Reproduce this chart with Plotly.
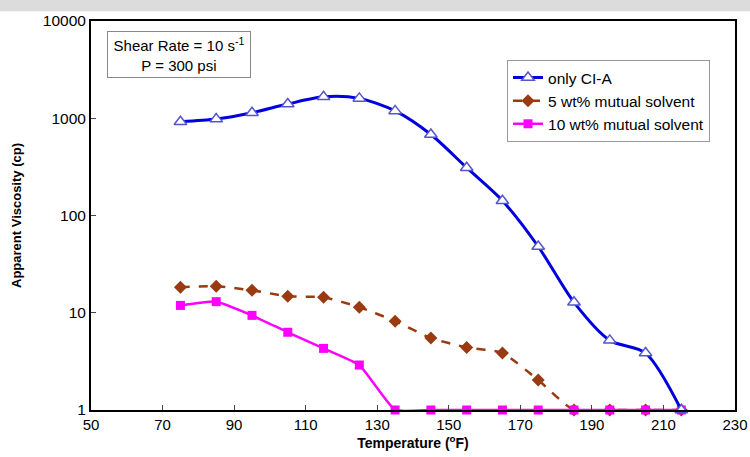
import plotly.graph_objects as go

temps = [75, 85, 95, 105, 115, 125, 135, 145, 155, 165, 175, 185, 195, 205, 215]
only_ci_a = [920, 980, 1140, 1400, 1660, 1600, 1190, 680, 310, 142, 48, 12.8, 5.2, 3.85, 1]
mutual_5 = [18.3, 18.7, 17.0, 14.8, 14.4, 11.4, 8.2, 5.5, 4.4, 3.85, 2.03, 1, 1, 1, 1]
mutual_10 = [11.9, 13.0, 9.4, 6.3, 4.3, 2.9, 1, 1, 1, 1, 1, 1, 1, 1, 1]

x_ticks = [50, 70, 90, 110, 130, 150, 170, 190, 210, 230]
y_ticks = [1, 10, 100, 1000, 10000]

fig = go.Figure()
fig.add_trace(go.Scatter(
    x=temps, y=mutual_5, name="5 wt% mutual solvent", mode="lines+markers",
    line=dict(color="#9a3a10", width=2.5, dash="dash", shape="spline", smoothing=0.6),
    marker=dict(symbol="diamond", size=10, color="#9a3a10"),
    cliponaxis=False, legendrank=2))
fig.add_trace(go.Scatter(
    x=temps, y=mutual_10, name="10 wt% mutual solvent", mode="lines+markers",
    line=dict(color="#ff00ff", width=2.5, shape="spline", smoothing=0.4),
    marker=dict(symbol="square", size=9, color="#ff00ff"),
    cliponaxis=False, legendrank=3))
fig.add_trace(go.Scatter(
    x=temps, y=only_ci_a, name="only CI-A", mode="lines+markers",
    line=dict(color="#0000dd", width=3, shape="spline", smoothing=0.8),
    marker=dict(symbol="triangle-up", size=11, color="white",
                line=dict(color="#5555cc", width=1.5)),
    cliponaxis=False, legendrank=1))

fig.update_layout(
    width=750, height=457,
    margin=dict(l=91, r=15, t=21, b=47, autoexpand=False),
    paper_bgcolor="white", plot_bgcolor="white",
    font=dict(family="Liberation Sans, Arial, sans-serif", size=15, color="black"),
    showlegend=True,
    legend=dict(x=0.646, y=0.9, xanchor="left", yanchor="top",
                bordercolor="#999999", borderwidth=1, bgcolor="white",
                font=dict(size=15.5), tracegroupgap=0, itemwidth=30),
    xaxis=dict(range=[50, 230], tickvals=x_ticks, ticks="inside", ticklen=5,
               showline=True, linecolor="black", linewidth=2, mirror=True,
               showgrid=False, zeroline=False, automargin=False,
               tickfont=dict(size=15),
               title=dict(text="<b>Temperature (<sup>o</sup>F)</b>", font=dict(size=14), standoff=4)),
    yaxis=dict(type="log", range=[0, 4], tickvals=y_ticks,
               ticktext=[str(v) for v in y_ticks], ticks="inside", ticklen=5,
               showline=True, linecolor="black", linewidth=2, mirror=True,
               showgrid=False, zeroline=False, automargin=False,
               tickfont=dict(size=15.5),
               title=dict(text="<b>Apparent Viscosity (cp)</b>", font=dict(size=13), standoff=18)),
)
fig.add_annotation(
    xref="paper", yref="paper", x=0.137, y=0.913, xanchor="center", yanchor="middle",
    text="Shear Rate = 10 s<sup>-1</sup><br>P = 300 psi", showarrow=False,
    bordercolor="#888888", borderwidth=1, borderpad=3, bgcolor="white",
    font=dict(size=15), align="center", width=136)
fig.add_shape(type="rect", xref="paper", yref="paper", x0=-0.2, x1=1.1,
              y0=1.025, y1=1.06, fillcolor="#dcdcdc", line=dict(width=0), layer="below")

fig.write_html("out.html")
